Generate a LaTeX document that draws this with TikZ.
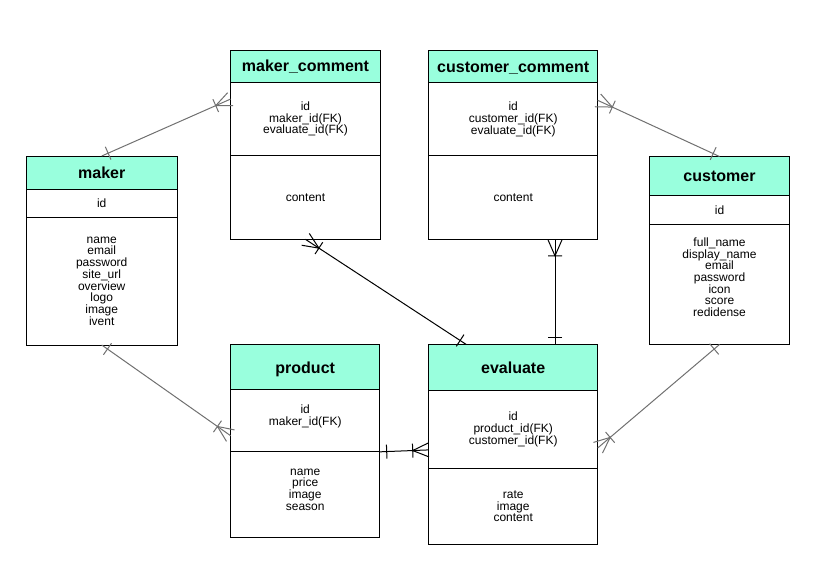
\documentclass[tikz,border=0pt]{standalone}
\usepackage{fontspec}
\setmainfont{Liberation Sans}
\usepackage{xcolor}
\usepackage{tikz}
\usetikzlibrary{positioning,decorations.markings}

\definecolor{headfill}{RGB}{153,255,221}
\definecolor{relgray}{RGB}{112,112,112}

\tikzset{
    onemany/.style={
        postaction={decorate, decoration={markings,
            mark=at position 0 with {\draw (5.25pt,-5.25pt) -- (5.25pt,5.25pt);}}},
        postaction={decorate, decoration={markings,
            mark=at position 1 with {\draw (-12pt,-5.25pt) -- (-12pt,5.25pt) (0pt,5.25pt) -- (-12pt,0pt) -- (0pt,-5.25pt);}}}
    }
}

\begin{document}
\begin{tikzpicture}[x=0.75pt, y=-0.75pt, line width=0.75pt,
    every node/.style={font=\fontsize{9}{8.8}\selectfont},
    tbl/.style={draw, outer sep=0pt, inner sep=0pt, align=center, minimum width=#1},
    head/.style={tbl=#1, fill=headfill, font=\bfseries\fontsize{12}{14}\selectfont}]
    \useasboundingbox (0,0) rectangle (824,578);

    \node[head=113.6pt, minimum height=24.75pt, anchor=north west] (maker) at (26,156) {maker};
    \node[tbl=113.6pt, minimum height=21pt, below=0pt of maker] (maker-key) {id};
    \node[tbl=113.6pt, minimum height=96pt, below=0pt of maker-key] (maker-attr) {name\\email\\password\\site\_url\\overview\\logo\\image\\ivent};

    \node[head=112.5pt, minimum height=24.4pt, anchor=north west] (mcom) at (230.5,50.3) {maker\_comment};
    \node[tbl=112.5pt, minimum height=54.4pt, below=0pt of mcom] (mcom-key) {id\\maker\_id(FK)\\evaluate\_id(FK)};
    \node[tbl=112.5pt, minimum height=63pt, below=0pt of mcom-key] (mcom-attr) {content};

    \node[head=126.75pt, minimum height=24.4pt, anchor=north west, text height=10pt] (ccom) at (428.7,50.3) {customer\_comment};
    \node[tbl=126.75pt, minimum height=54.75pt, below=0pt of ccom] (ccom-key) {id\\customer\_id(FK)\\evaluate\_id(FK)};
    \node[tbl=126.75pt, minimum height=63pt, below=0pt of ccom-key] (ccom-attr) {content};

    \node[head=105pt, minimum height=29.25pt, anchor=north west] (cust) at (649.5,156.5) {customer};
    \node[tbl=105pt, minimum height=21.75pt, below=0pt of cust] (cust-key) {id};
    \node[tbl=105pt, minimum height=90pt, below=0pt of cust-key, text depth=11pt] (cust-attr) {full\_name\\display\_name\\email\\password\\icon\\score\\redidense};

    \node[head=111.75pt, minimum height=33.75pt, anchor=north west, text height=13pt] (prod) at (230.7,344.3) {product};
    \node[tbl=111.75pt, minimum height=46.9pt, below=0pt of prod, text depth=8pt] (prod-key) {id\\maker\_id(FK)};
    \node[tbl=111.75pt, minimum height=64.5pt, below=0pt of prod-key, text depth=8pt] (prod-attr) {name\\price\\image\\season};

    \node[head=126.75pt, minimum height=34.5pt, anchor=north west, text height=10pt] (eval) at (428.7,344.3) {evaluate};
    \node[tbl=126.75pt, minimum height=58.5pt, below=0pt of eval] (eval-key) {id\\product\_id(FK)\\customer\_id(FK)};
    \node[tbl=126.75pt, minimum height=57pt, below=0pt of eval-key] (eval-attr) {rate\\image\\content};

    \draw[onemany, color=relgray] (maker.north) -- ([yshift=15pt]mcom-key.west);
    \draw[onemany, color=relgray] (cust.north) -- ([yshift=14.25pt]ccom-key.east);
    \draw[onemany] ([xshift=-35.4pt]eval.north) -- (mcom-attr.south);
    \draw[onemany] ([xshift=31.35pt]eval.north) -- ([xshift=31.35pt]ccom-attr.south);
    \draw[onemany, color=relgray] (maker-attr.south) -- ([yshift=-11.4pt]prod-key.west);
    \draw[onemany] (prod-key.south east) -- ([yshift=-15.45pt]eval-key.west);
    \draw[onemany, color=relgray] (cust-attr.south) -- ([yshift=-14pt]eval-key.east);
\end{tikzpicture}
\end{document}
